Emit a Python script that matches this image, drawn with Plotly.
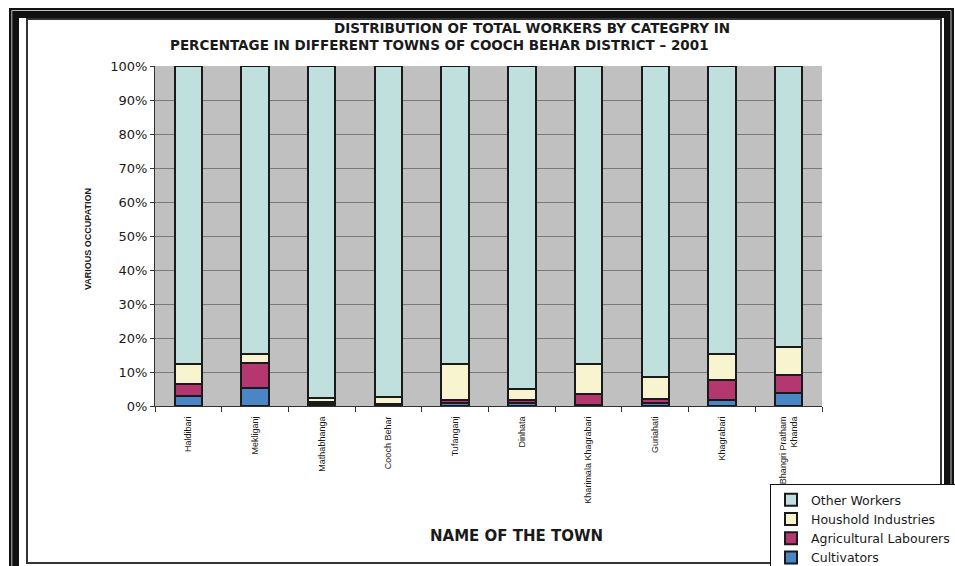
import plotly.graph_objects as go

towns = ["Haldibari", "Mekliganj", "Mathabhanga", "Cooch Behar", "Tufanganj", "Dinhata",
         "Kharimala Khagrabari", "Guriahati", "Khagrabari", "Bhangri Pratham<br>Khanda"]
cultivators = [3.0, 5.4, 0.5, 0.3, 1.0, 0.8, 0.3, 0.8, 1.7, 3.7]
agricultural = [3.6, 7.2, 0.7, 0.3, 0.7, 0.9, 3.1, 1.2, 6.0, 5.3]
household = [5.7, 2.7, 1.3, 2.1, 10.8, 3.4, 9.1, 6.6, 7.6, 8.4]
other = [87.7, 84.7, 97.5, 97.3, 87.5, 94.9, 87.5, 91.4, 84.7, 82.6]

series = [
    ("Cultivators", cultivators, "#4A86C5"),
    ("Agricultural Labourers", agricultural, "#B5376F"),
    ("Houshold Industries", household, "#F8F4CF"),
    ("Other Workers", other, "#C0E0DE"),
]

W, H = 955, 566
L, R, T, B = 155, 822, 66, 406


def xp(px):
    return (px - L) / (R - L)


def yp(py):
    return (B - py) / (B - T)


fig = go.Figure()
for name, vals, col in series:
    fig.add_trace(go.Bar(
        x=towns, y=vals, name=name,
        marker=dict(color=col, line=dict(color="#1a1a1a", width=2)),
    ))

shapes = [
    dict(type="rect", xref="paper", yref="paper",
         x0=xp(14), x1=xp(949), y0=yp(13), y1=yp(575),
         line=dict(color="#111111", width=10), fillcolor="rgba(0,0,0,0)", layer="below"),
    dict(type="rect", xref="paper", yref="paper",
         x0=xp(11.8), x1=xp(951), y0=yp(10.5), y1=yp(578),
         line=dict(color="#bbbbbb", width=1), fillcolor="rgba(0,0,0,0)", layer="below"),
    dict(type="rect", xref="paper", yref="paper",
         x0=xp(27), x1=xp(941), y0=yp(19), y1=yp(563),
         line=dict(color="#333333", width=2), fillcolor="rgba(0,0,0,0)", layer="below"),
]

title_font = dict(family="DejaVu Sans", size=13.5, color="#1a1a1a", weight="bold")
annotations = [
    dict(text="DISTRIBUTION OF TOTAL WORKERS BY CATEGPRY IN", xref="paper", yref="paper",
         x=xp(532), y=yp(28), xanchor="center", yanchor="middle", showarrow=False, font=title_font),
    dict(text="PERCENTAGE IN DIFFERENT TOWNS OF COOCH BEHAR DISTRICT \u2013 2001", xref="paper", yref="paper",
         x=xp(168), y=yp(45), xanchor="left", yanchor="middle", showarrow=False, font=title_font),
    dict(text="NAME OF THE TOWN", xref="paper", yref="paper",
         x=xp(516), y=yp(536), xanchor="center", yanchor="middle", showarrow=False,
         font=dict(family="DejaVu Sans", size=15, color="#1a1a1a", weight="bold")),
    dict(text="VARIOUS OCCUPATION", xref="paper", yref="paper", textangle=-90,
         x=xp(88), y=yp(239), xanchor="center", yanchor="middle", showarrow=False,
         font=dict(family="Liberation Sans Narrow, Arial Narrow, Arial", size=9, color="#1a1a1a", weight="bold")),
]

fig.update_layout(
    width=W, height=H,
    margin=dict(l=L, r=W - R, t=T, b=H - B, pad=0, autoexpand=False),
    barmode="stack", bargap=0.59,
    paper_bgcolor="white", plot_bgcolor="#C0C0C0",
    shapes=shapes, annotations=annotations,
    showlegend=True,
    legend=dict(x=xp(770), y=yp(484), xanchor="left", yanchor="top",
                traceorder="reversed", bgcolor="white", bordercolor="#111111", borderwidth=1,
                font=dict(family="DejaVu Sans", size=12.5, color="#1a1a1a"),
                itemwidth=30, tracegroupgap=0),
    font=dict(family="Arial", color="#1a1a1a"),
)

fig.update_yaxes(range=[0, 100], dtick=10, ticksuffix="%", showgrid=True, gridcolor="#7a7a7a", gridwidth=1,
                 ticks="outside", ticklen=4, tickcolor="#333333", showline=True, linecolor="#333333", linewidth=1,
                 tickfont=dict(family="DejaVu Sans", size=13, color="#1a1a1a"), zeroline=False, fixedrange=True)
fig.update_xaxes(tickangle=-90, ticks="outside", ticklen=5, tickcolor="#333333", tickson="boundaries",
                 showline=True, linecolor="#333333", linewidth=1, ticklabelstandoff=6,
                 tickfont=dict(family="Liberation Sans Narrow, Arial Narrow, Arial", size=9, color="#1a1a1a"),
                 fixedrange=True)

fig.write_html("out.html")
